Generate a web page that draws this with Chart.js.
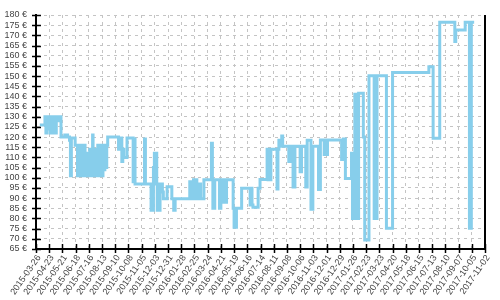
<!DOCTYPE html>
<html>
<head>
<meta charset="utf-8">
<script src="https://cdn.jsdelivr.net/npm/chart.js@4/dist/chart.umd.min.js"></script>
<style>
  html, body { margin: 0; padding: 0; background: #fff; }
  #wrap { width: 500px; height: 300px; }
</style>
</head>
<body>
<div id="wrap"><canvas id="c" width="500" height="300"></canvas></div>
<script>
// Axis start date; data positions are days since this date
const startDate = '2015-03-26';

// X tick labels (every 28 days)
const tickDates = ['2015-03-26','2015-04-23','2015-05-21','2015-06-18','2015-07-16','2015-08-13','2015-09-10','2015-10-08','2015-11-05','2015-12-03','2015-12-31','2016-01-28','2016-02-25','2016-03-24','2016-04-21','2016-05-19','2016-06-16','2016-07-14','2016-08-11','2016-09-08','2016-10-06','2016-11-03','2016-12-01','2016-12-29','2017-01-26','2017-02-23','2017-03-23','2017-04-20','2017-05-18','2017-06-15','2017-07-13','2017-08-10','2017-09-07','2017-10-05','2017-11-02'];

// Y tick values (euro)
const priceTicks = [65,70,75,80,85,90,95,100,105,110,115,120,125,130,135,140,145,150,155,160,165,170,175,180];

// Price change days (days since startDate)
const changeDays = [
  8,19,21,23,25,27,30,31,32,34,35,37,38,40,41,43,47,49,
  53,61,67,71,73,75,83,
  88,90,92,94,96,98,100,102,104,106,108,110,112,114,116,118,120,121,123,125,127,129,
  131,133,135,136,138,140,142,144,146,148,150,
  152,175,177,182,184,186,193,
  206,208,210,230,232,
  244,246,248,249,250,251,253,254,256,257,260,261,263,
  268,270,278,288,292,295,
  326,328,330,332,334,336,338,341,346,349,356,
  372,374,375,379,
  389,392,394,397,399,404,
  418,420,425,436,
  454,456,458,460,471,475,
  490,492,494,496,498,
  511,513,515,519,521,523,
  536,541,545,549,560,563,572,575,583,587,599,603,
  611,613,615,618,
  648,652,656,
  669,671,673,675,
  676,678,680,682,684,
  694,697,706,
  717,720,721,723,
  743,756,833,842,856,
  888,890,910,919,923,929
];

// Price (EUR) from each change day on
const prices = [
  126,130,122,130,124,130,122,130,122,130,122,130,122,130,122,130,128,130,
  120,121,120,118.5,101,119.5,116,
  101,116,101,116,101,116,101,116,101,110,101,112,101,114,101,114,121,101,114,101,114,101,
  116,112,116,101,116,101,116,104,116,105,116,
  120,114,119.5,108,114,110,119.5,
  98,119,97,119,97,
  84,97,84,105,97,112,97,112,97,84,97,84,97,
  93,89.7,95.6,89.7,84,89.7,
  98,89.7,98,89.7,99,89.7,99,89.7,97,89.7,99,
  117,99,85,99,
  85,99,88,99,88,99,
  85,75.7,85,94.8,
  86.6,94.8,86.6,85.5,94.8,99.2,
  114,99,114,99,114,
  94.5,114,118.5,115.5,120.5,115.5,
  108,115.5,95.5,115.5,103,115.5,95.5,118.5,84.5,115.5,94.3,118.6,
  111.5,118.6,111.5,118.6,
  109,119,99.7,
  112,80,112,80,
  141,80,141,80,141.5,
  120,69.4,150.2,
  80,150.2,80,150.2,
  75.2,151.7,154.6,119.4,176.4,
  167,172.6,176.4,75.2,176.4,176.4
];

const DAY = 86400000;
const t0 = Date.parse(startDate + 'T00:00:00Z');
const dayOf = s => Math.round((Date.parse(s + 'T00:00:00Z') - t0) / DAY);
const tickDays = tickDates.map(dayOf);
const labelOf = {};
tickDates.forEach((d, i) => { labelOf[tickDays[i]] = d; });

const points = changeDays.map((d, i) => ({ x: d, y: prices[i] }));

const axisTicks = {
  id: 'axisTicks',
  afterDraw(chart) {
    const { ctx, chartArea: a, scales: { x, y } } = chart;
    ctx.save();
    ctx.strokeStyle = '#000';
    ctx.lineWidth = 1.5;
    ctx.beginPath();
    y.ticks.forEach(t => {
      const py = Math.round(y.getPixelForValue(t.value)) + 0.5;
      ctx.moveTo(a.left - 4, py); ctx.lineTo(a.left + 5, py);
    });
    x.ticks.forEach(t => {
      const px = Math.round(x.getPixelForValue(t.value)) + 0.5;
      ctx.moveTo(px, a.bottom - 5); ctx.lineTo(px, a.bottom + 4);
    });
    ctx.stroke();
    ctx.lineWidth = 2;
    ctx.beginPath();
    ctx.moveTo(a.right, a.top); ctx.lineTo(a.right, a.bottom + 1);
    ctx.stroke();
    ctx.restore();
  }
};

new Chart(document.getElementById('c'), {
  type: 'line',
  data: {
    datasets: [{
      data: points,
      borderColor: '#87ceeb',
      borderWidth: 3,
      pointRadius: 0,
      stepped: true,
      fill: false,
      tension: 0
    }]
  },
  options: {
    responsive: false,
    animation: false,
    layout: { padding: { top: 15, right: 15, left: 0, bottom: 0 } },
    plugins: { legend: { display: false }, tooltip: { enabled: false } },
    scales: {
      x: {
        type: 'linear',
        min: tickDays[0],
        max: tickDays[tickDays.length - 1],
        afterBuildTicks: s => { s.ticks = tickDays.map(v => ({ value: v })); },
        afterFit: s => { s.height = 51; },
        grid: { color: '#c4c4c4', lineWidth: 1, drawTicks: false },
        border: { display: true, color: '#000', width: 2, dash: [3, 4] },
        ticks: {
          autoSkip: false,
          maxRotation: 55,
          minRotation: 55,
          padding: 4,
          labelOffset: 3,
          color: '#444',
          font: { family: 'Liberation Sans', size: 9 },
          callback: v => labelOf[v] || ''
        }
      },
      y: {
        type: 'linear',
        min: 65,
        max: 180,
        afterBuildTicks: s => { s.ticks = priceTicks.map(v => ({ value: v })); },
        afterFit: s => { s.width = 36; },
        grid: { color: '#c4c4c4', lineWidth: 1, drawTicks: false },
        border: { display: true, color: '#000', width: 2, dash: [3, 4] },
        ticks: {
          autoSkip: false,
          padding: 9,
          color: '#444',
          font: { family: 'Liberation Sans', size: 9 },
          callback: v => v + ' €'
        }
      }
    }
  },
  plugins: [axisTicks]
});
</script>
</body>
</html>
